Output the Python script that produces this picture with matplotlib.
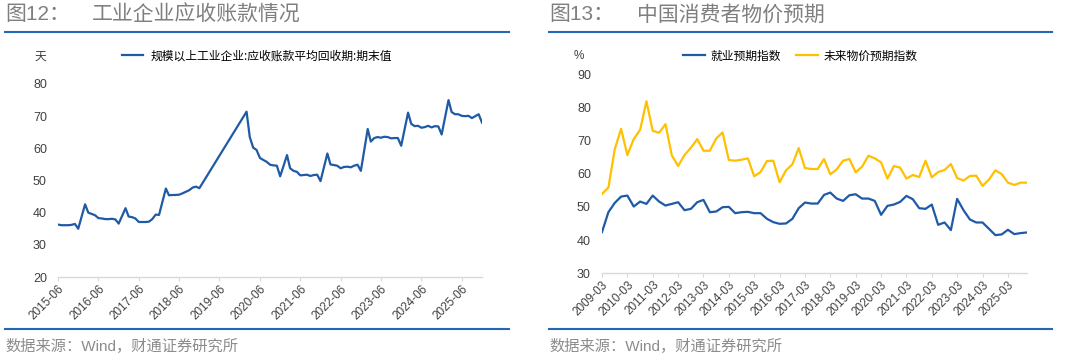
import matplotlib
matplotlib.use("Agg")
import matplotlib.pyplot as plt
import pandas as pd
from matplotlib.lines import Line2D

plt.rcParams['font.family'] = ['Liberation Sans', 'Noto Sans CJK SC', 'DejaVu Sans']

# 图12 应收账款平均回收期 (天), no January prints, gap in 2019
ar_dates = [
    "2015-06", "2015-07", "2015-08", "2015-09", "2015-10", "2015-11", "2015-12",
    "2016-02", "2016-03", "2016-04", "2016-05", "2016-06", "2016-07", "2016-08", "2016-09", "2016-10", "2016-11", "2016-12",
    "2017-02", "2017-03", "2017-04", "2017-05", "2017-06", "2017-07", "2017-08", "2017-09", "2017-10", "2017-11", "2017-12",
    "2018-02", "2018-03", "2018-04", "2018-05", "2018-06", "2018-07", "2018-08", "2018-09", "2018-10", "2018-11", "2018-12",
    "2020-02", "2020-03", "2020-04", "2020-05", "2020-06", "2020-07", "2020-08", "2020-09", "2020-10", "2020-11", "2020-12",
    "2021-02", "2021-03", "2021-04", "2021-05", "2021-06", "2021-07", "2021-08", "2021-09", "2021-10", "2021-11", "2021-12",
    "2022-02", "2022-03", "2022-04", "2022-05", "2022-06", "2022-07", "2022-08", "2022-09", "2022-10", "2022-11", "2022-12",
    "2023-02", "2023-03", "2023-04", "2023-05", "2023-06", "2023-07", "2023-08", "2023-09", "2023-10", "2023-11", "2023-12",
    "2024-02", "2024-03", "2024-04", "2024-05", "2024-06", "2024-07", "2024-08", "2024-09", "2024-10", "2024-11", "2024-12",
    "2025-02", "2025-03", "2025-04", "2025-05", "2025-06", "2025-07", "2025-08", "2025-09", "2025-10", "2025-11", "2025-12",
]
ar_values = [
    36.3, 36.1, 36.1, 36.1, 36.2, 36.5, 35.0,
    42.6, 40.0, 39.6, 39.2, 38.3, 38.2, 38.0, 38.0, 38.1, 37.9, 36.6,
    41.4, 38.8, 38.6, 38.2, 37.1, 37.1, 37.1, 37.2, 38.0, 39.4, 39.3,
    47.5, 45.4, 45.5, 45.5, 45.6, 46.0, 46.5, 47.0, 47.8, 48.1, 47.6,
    71.4, 63.5, 60.2, 59.5, 57.0, 56.4, 55.8, 54.9, 54.7, 54.6, 51.3,
    57.9, 53.8, 53.0, 52.7, 51.6, 51.7, 51.8, 51.4, 51.7, 51.8, 49.8,
    58.4, 55.0, 54.8, 54.6, 53.8, 54.2, 54.3, 54.1, 54.6, 54.9, 53.0,
    66.0, 62.1, 63.2, 63.5, 63.3, 63.6, 63.5, 63.1, 63.2, 63.2, 60.8,
    71.1, 67.6, 66.9, 67.0, 66.4, 66.6, 67.0, 66.5, 66.9, 66.8, 64.3,
    75.0, 71.3, 70.6, 70.6, 70.1, 70.0, 70.1, 69.4, 70.0, 70.6, 68.0,
]
ar_ticks = ["2015-06", "2016-06", "2017-06", "2018-06", "2019-06", "2020-06",
            "2021-06", "2022-06", "2023-06", "2024-06", "2025-06"]

# 图13 quarterly depositor survey, 2009Q1 .. 2025Q4
survey_dates = pd.date_range("2009-03-01", "2025-12-01", freq="3MS")
employment = [
    42.4, 48.4, 51.2, 53.1,
    53.4, 50.1, 51.6, 50.9,
    53.4, 51.6, 50.4, 50.9,
    51.4, 49.0, 49.4, 51.4,
    52.1, 48.4, 48.6, 49.9,
    50.0, 48.1, 48.4, 48.5,
    48.1, 48.1, 46.4, 45.4,
    44.9, 45.0, 46.4, 49.6,
    51.3, 51.0, 51.0, 53.6,
    54.3, 52.5, 51.8, 53.5,
    53.8, 52.5, 52.5, 51.8,
    47.6, 50.3, 50.7, 51.5,
    53.3, 52.3, 49.6, 49.4,
    50.7, 44.6, 45.3, 43.0,
    52.4, 49.0, 46.2, 45.3,
    45.3, 43.4, 41.5, 41.7,
    43.1, 41.8, 42.1, 42.3,
]
price_expect = [
    53.9, 55.8, 67.4, 73.5,
    65.6, 70.4, 73.2, 81.8,
    72.9, 72.3, 74.9, 65.5,
    62.3, 65.6, 67.8, 70.4,
    66.9, 66.9, 70.6, 72.4,
    64.1, 63.9, 64.2, 64.6,
    59.2, 60.5, 63.8, 63.9,
    57.4, 61.0, 62.8, 67.7,
    61.7, 61.4, 61.4, 64.4,
    59.8, 61.3, 63.9, 64.4,
    60.4, 62.1, 65.4, 64.6,
    63.4, 58.5, 62.3, 61.8,
    58.5, 59.6, 59.0, 63.9,
    58.9, 60.5, 61.1, 62.9,
    58.7, 57.9, 59.3, 59.4,
    56.3, 58.2, 61.0, 59.9,
    57.3, 56.6, 57.3, 57.3,
]
survey_ticks = [f"{y}-03" for y in range(2009, 2026)]

BLUE = "#1f5aa6"
YELLOW = "#ffc000"
RULE = "#2268b8"
GRAY = "#7f7f7f"
TICK = "#404040"
W, H = 1080, 357


def fx(px):
    return px / W


def fy(py):
    return 1 - py / H


def style_axis(ax, ticks, ylim, step):
    for s in ("top", "right", "left"):
        ax.spines[s].set_visible(False)
    ax.spines["bottom"].set_color("#d9d9d9")
    ax.spines["bottom"].set_linewidth(1.0)
    ax.set_ylim(*ylim)
    ax.set_yticks(range(ylim[0], ylim[1] + 1, step))
    ax.tick_params(axis="y", length=0, pad=8, labelsize=9, labelcolor=TICK)
    ax.set_xticks(pd.to_datetime(ticks))
    ax.set_xticklabels(ticks)
    ax.tick_params(axis="x", length=3, color="#d9d9d9", pad=1, labelsize=8.5, labelcolor=TICK)
    plt.setp(ax.get_xticklabels(), rotation=45, ha="right", va="top", rotation_mode="anchor")


fig = plt.figure(figsize=(10.8, 3.57), dpi=100)

ax1 = fig.add_axes([fx(58), fy(277), fx(424), (277 - 84) / H])
ax1.plot(pd.to_datetime(ar_dates), ar_values, color=BLUE, lw=1.6,
         label="规模以上工业企业:应收账款平均回收期:期末值")
ax1.set_xlim(pd.Timestamp("2015-06-01"), pd.Timestamp("2025-12-01"))
style_axis(ax1, ar_ticks, (20, 80), 10)
ax1.legend(loc="center left", bbox_to_anchor=(fx(122), fy(56)), bbox_transform=fig.transFigure,
           frameon=False, fontsize=8.5, handlelength=1.8, handletextpad=0.6,
           borderpad=0, borderaxespad=0, prop={"family": ["Noto Sans CJK SC"], "size": 8.5})

ax2 = fig.add_axes([fx(602), fy(273.3), fx(425), (273.3 - 74) / H])
ax2.plot(survey_dates, employment, color=BLUE, lw=1.6, label="就业预期指数")
ax2.plot(survey_dates, price_expect, color=YELLOW, lw=1.6, label="未来物价预期指数")
ax2.set_xlim(survey_dates[0], survey_dates[-1])
style_axis(ax2, survey_ticks, (30, 90), 10)
ax2.legend(loc="center left", bbox_to_anchor=(fx(683), fy(56)), bbox_transform=fig.transFigure,
           frameon=False, ncol=2, handlelength=1.9, handletextpad=0.4, columnspacing=1.3,
           borderpad=0, borderaxespad=0, prop={"family": ["Noto Sans CJK SC"], "size": 8.5})

# unit labels
fig.text(fx(40), fy(56), "天", ha="center", va="center", fontsize=8.5, color=TICK,
         family=["Noto Sans CJK SC"])
fig.text(fx(579), fy(56), "%", ha="center", va="center", fontsize=8.5, color=TICK)

# titles
fig.text(fx(5), fy(15), "图12：", ha="left", va="center", fontsize=15, color=GRAY)
fig.text(fx(92), fy(15), "工业企业应收账款情况", ha="left", va="center", fontsize=15, color=GRAY)
fig.text(fx(549), fy(15), "图13：", ha="left", va="center", fontsize=15, color=GRAY)
fig.text(fx(637), fy(15), "中国消费者物价预期", ha="left", va="center", fontsize=15, color=GRAY)

# rules
for x0, x1 in ((5, 509), (549, 1052)):
    for y in (32, 328.5):
        fig.add_artist(Line2D([fx(x0), fx(x1)], [fy(y), fy(y)], color=RULE, lw=1.5))

fig.text(fx(5), fy(346), "数据来源：Wind，财通证券研究所", ha="left", va="center", fontsize=11, color="#8c8c8c")
fig.text(fx(549), fy(346), "数据来源：Wind，财通证券研究所", ha="left", va="center", fontsize=11, color="#8c8c8c")

fig.savefig("out.png", dpi=100)
